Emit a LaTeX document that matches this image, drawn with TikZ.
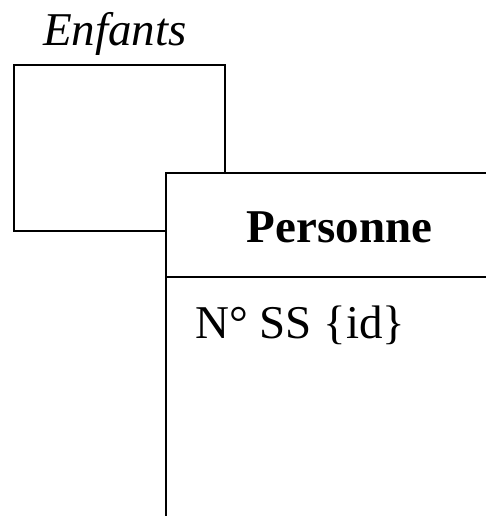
\documentclass[tikz,border=0pt]{standalone}
\usepackage{fontspec}
\setmainfont{Liberation Serif}
\usetikzlibrary{positioning}

\tikzset{
  entitybox/.style={draw, line width=2pt, fill=white, inner sep=0pt},
  bigtext/.style={font=\fontsize{47}{56}\selectfont, inner sep=0pt, anchor=base},
}

\begin{document}
\begin{tikzpicture}[x=1pt,y=-1pt]
  \useasboundingbox (0,0) rectangle (486,516);
  \clip (0,0) rectangle (486,516);
  % role box
  \node[entitybox, minimum width=211pt, minimum height=166pt] (enfants) at (119.5,148) {};
  \node[bigtext, font=\fontsize{47}{56}\selectfont\itshape] (enfantslabel) at (115,46) {Enfants};
  % entity
  \node[entitybox, anchor=north west, minimum width=340pt, minimum height=360pt] (personne) at (165,172) {};
  \draw[line width=2pt] ([yshift=-105pt]personne.north west) -- ([yshift=-105pt]personne.north east);
  \node[bigtext, font=\fontsize{47}{56}\selectfont\bfseries] (personnename) at (339.5,242) {Personne};
  \node[bigtext, anchor=base west] (numss) at (195,338) {N° SS \{id\}};
\end{tikzpicture}
\end{document}
